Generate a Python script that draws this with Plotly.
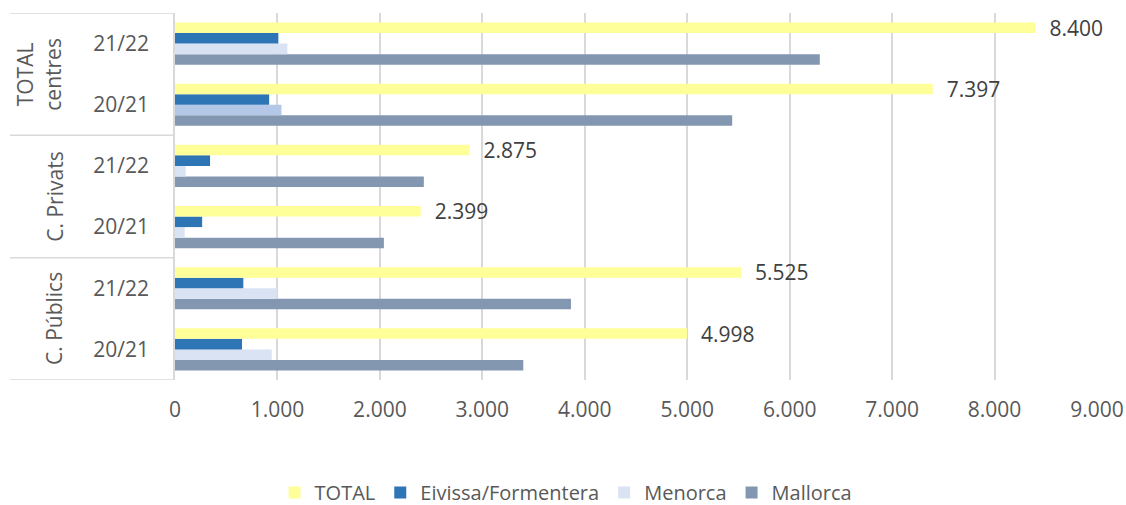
import plotly.graph_objects as go

groups = ["C. Públics", "C. Públics", "C. Privats", "C. Privats", "TOTAL centres", "TOTAL centres"]
periods = ["20/21", "21/22", "20/21", "21/22", "20/21", "21/22"]
total = [4998, 5525, 2399, 2875, 7397, 8400]
eivissa = [654, 667, 265, 342, 919, 1009]
menorca = [944, 993, 95, 104, 1039, 1097]
mallorca = [3400, 3865, 2039, 2429, 5439, 6294]
xticks = [0, 1000, 2000, 3000, 4000, 5000, 6000, 7000, 8000, 9000]

cats = [g + " " + p for g, p in zip(groups, periods)]

FONT = "Open Sans"
TXT = "#595959"

menorca_colors = ["#DAE3F3"] * len(cats)
menorca_colors[4] = "#B4C7E7"

fig = go.Figure()
fig.add_trace(go.Bar(name="Mallorca", y=cats, x=mallorca, orientation="h",
                     marker=dict(color="#8497B0", line=dict(width=0))))
fig.add_trace(go.Bar(name="Menorca", y=cats, x=menorca, orientation="h",
                     marker=dict(color=menorca_colors, line=dict(width=0))))
fig.add_trace(go.Bar(name="Eivissa/Formentera", y=cats, x=eivissa, orientation="h",
                     marker=dict(color="#2E75B6", line=dict(width=0))))
fig.add_trace(go.Bar(name="TOTAL", y=cats, x=total, orientation="h",
                     marker=dict(color="#FFFF99", line=dict(width=0)),
                     texttemplate="\u00a0\u00a0%{x:,}", textposition="outside",
                     constraintext="none", cliponaxis=False,
                     textfont=dict(family=FONT, size=21, color="#404040")))

shapes = []
for yv in [5.5, 3.5, 1.5, -0.5]:
    shapes.append(dict(type="line", xref="paper", yref="y", x0=-0.179, x1=0, y0=yv, y1=yv,
                       line=dict(color="#D9D9D9", width=1.5)))

annotations = []
group_names = []
for g in groups:
    if g not in group_names:
        group_names.append(g)
for g in group_names:
    idx = [i for i, gg in enumerate(groups) if gg == g]
    ymid = sum(idx) / len(idx)
    is_total = g.startswith("TOTAL")
    label = g.replace(" ", "<br>") if is_total else g
    annotations.append(dict(text=label, xref="paper", yref="y", x=-0.148 if is_total else -0.131,
                            y=ymid, textangle=-90, showarrow=False,
                            xanchor="center", yanchor="middle",
                            font=dict(family=FONT, size=21, color=TXT)))

fig.update_layout(
    width=1126, height=505,
    margin=dict(l=175, r=29, t=13, b=125, autoexpand=False),
    paper_bgcolor="white", plot_bgcolor="white",
    barmode="group", bargap=0.31, bargroupgap=0,
    separators=",.",
    font=dict(family=FONT, size=20, color=TXT),
    showlegend=True,
    legend=dict(orientation="h", traceorder="reversed", x=0.108, xanchor="left",
                yref="container", y=0.025, yanchor="middle",
                font=dict(family=FONT, size=20, color=TXT)),
    xaxis=dict(range=[0, 9000], tickvals=xticks, tickformat=",", showgrid=True,
               gridcolor="#D9D9D9", gridwidth=1.5, zeroline=False, showline=False,
               ticks="", ticklabelstandoff=15, automargin=False,
               tickfont=dict(family=FONT, size=21, color=TXT), fixedrange=True),
    yaxis=dict(tickvals=cats, ticktext=periods, showline=True, linecolor="#D9D9D9", linewidth=1.5,
               showgrid=False, zeroline=False, ticks="", ticklabelstandoff=20, automargin=False,
               tickfont=dict(family=FONT, size=21, color=TXT),
               range=[-0.5, len(cats) - 0.5]),
    shapes=shapes,
    annotations=annotations,
)

fig.write_html("out.html", post_script="document.body.style.margin='0';",
               config={"displayModeBar": False})
